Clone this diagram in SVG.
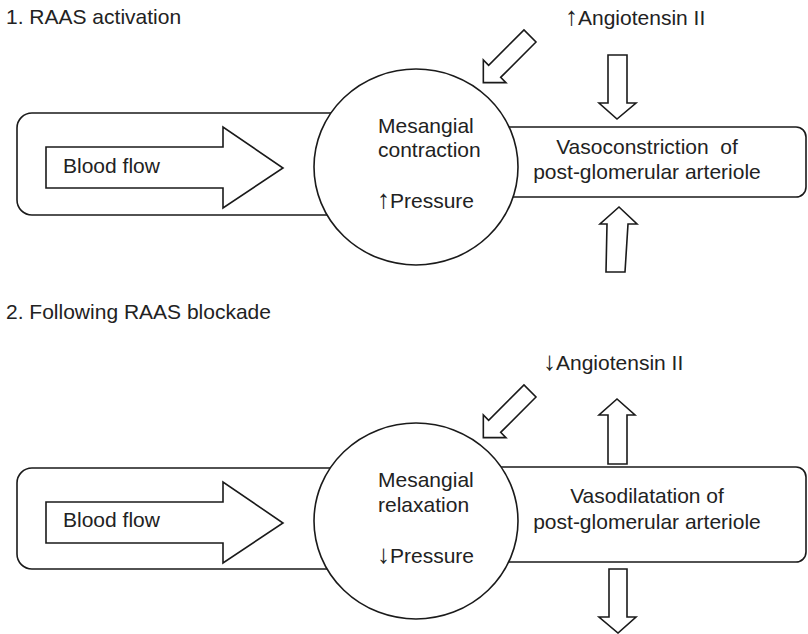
<svg xmlns="http://www.w3.org/2000/svg" width="808" height="634" viewBox="0 0 808 634">
<style>
.ln{fill:#fff;stroke:#1a1a1a;stroke-width:1.6;stroke-linejoin:miter}
.box{fill:#fff;stroke:#1a1a1a;stroke-width:1.6}
text{font-family:"Liberation Sans",Arial,sans-serif;font-size:21px;fill:#222}
.c{text-anchor:middle}
.ar{font-size:26px}
</style>
<defs>
<path id="diag" d="M0,-8.5 L50,-8.5 L50,-16 L66,0 L50,16 L50,8.5 L0,8.5 Z"/>
</defs>
<rect width="808" height="634" fill="#fff"/>
<text x="6" y="24">1. RAAS activation</text>
<text x="6" y="319">2. Following RAAS blockade</text>

<g id="panel1">
<g id="p1-left-vessel"><rect class="box" x="17" y="113" width="400" height="102" rx="15"/></g>
<g id="p1-right-vessel"><rect class="box" x="440" y="127" width="366" height="70" rx="10"/>
<text class="c" x="647" y="154">Vasoconstriction&#160; of</text>
<text class="c" x="647" y="179">post-glomerular arteriole</text></g>
<g id="p1-glomerulus"><ellipse class="box" cx="416" cy="167" rx="102" ry="98"/>
<text x="378" y="133">Mesangial</text>
<text x="378" y="157">contraction</text>
<text x="377" y="208"><tspan class="ar">↑</tspan>Pressure</text></g>
<g id="p1-bloodflow"><path class="ln" d="M46,147 L223,147 L223,127 L283,168 L223,208 L223,188 L46,188 Z"/>
<text x="63" y="173">Blood flow</text></g>
<g id="p1-angiotensin"><text x="565" y="25"><tspan class="ar">↑</tspan>Angiotensin II</text></g>
<g id="p1-arrows">
<use href="#diag" class="ln" transform="translate(530,36) rotate(135)"/>
<path class="ln" d="M608,55 L627,55 L627,103 L636,103 L617,119 L599,103 L608,103 Z"/>
<path class="ln" d="M606,272 L625,272 L628,224 L637,224 L619,207 L600,224 L607,224 Z"/>
</g>
</g>

<g id="panel2">
<g id="p2-left-vessel"><rect class="box" x="17" y="468" width="400" height="101" rx="15"/></g>
<g id="p2-right-vessel"><rect class="box" x="440" y="467" width="366" height="95" rx="10"/>
<text class="c" x="647" y="503">Vasodilatation of</text>
<text class="c" x="647" y="529">post-glomerular arteriole</text></g>
<g id="p2-glomerulus"><ellipse class="box" cx="416" cy="521" rx="102" ry="98"/>
<text x="378" y="487">Mesangial</text>
<text x="378" y="512">relaxation</text>
<text x="377" y="563"><tspan class="ar">↓</tspan>Pressure</text></g>
<g id="p2-bloodflow"><path class="ln" d="M46,502 L223,502 L223,482 L283,523 L223,563 L223,543 L46,543 Z"/>
<text x="63" y="527">Blood flow</text></g>
<g id="p2-angiotensin"><text x="543" y="370"><tspan class="ar">↓</tspan>Angiotensin II</text></g>
<g id="p2-arrows">
<use href="#diag" class="ln" transform="translate(530,391) rotate(135)"/>
<path class="ln" d="M608,464 L627,464 L627,415 L635,415 L617,399 L599,415 L608,415 Z"/>
<path class="ln" d="M609,569 L627,569 L627,617 L636,617 L618,633 L599,617 L609,617 Z"/>
</g>
</g>
</svg>
